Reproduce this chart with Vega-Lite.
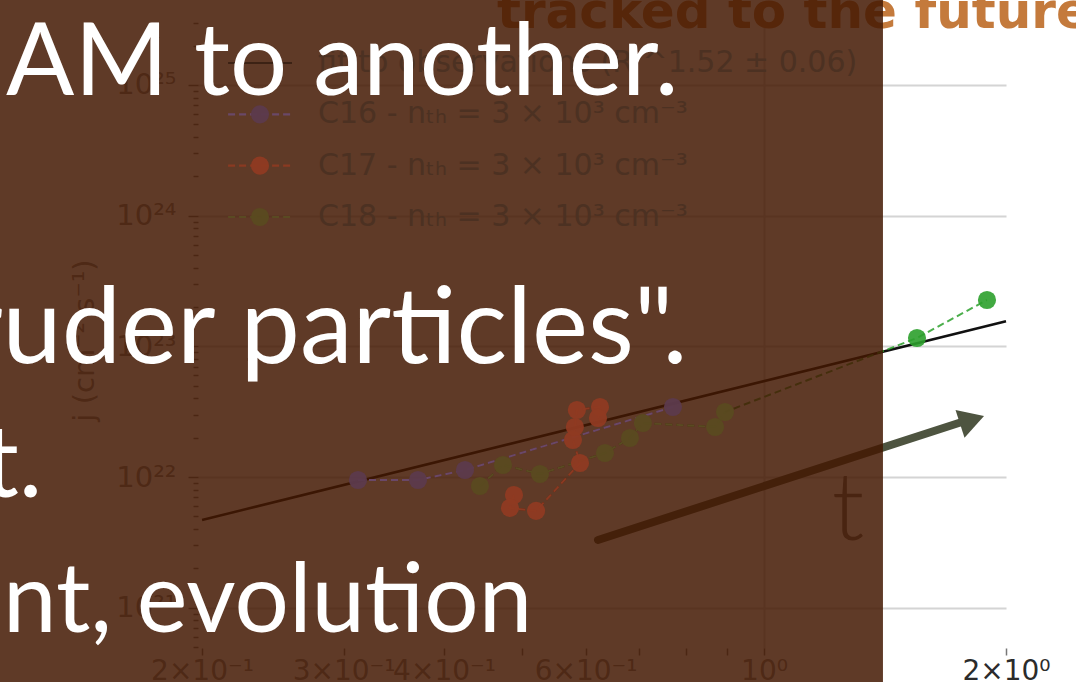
{
  "$schema": "https://vega.github.io/schema/vega-lite/v6.json",
  "width": 808,
  "height": 628,
  "autosize": {"type": "none"},
  "padding": {"left": 198, "top": 20, "right": 70, "bottom": 34},
  "background": "#ffffff",
  "config": {
    "view": {"stroke": null},
    "axis": {
      "domain": false,
      "zindex": 0,
      "labelFont": "DejaVu Sans",
      "titleFont": "DejaVu Sans",
      "tickColor": "#777777",
      "gridColor": "#d4d4d4",
      "gridWidth": 2
    }
  },
  "datasets": {
    "runs": [
      {"series": "C16", "step": 1, "t": 0.3126, "j": 9.49e21},
      {"series": "C16", "step": 2, "t": 0.3712, "j": 9.49e21},
      {"series": "C16", "step": 3, "t": 0.4247, "j": 1.131e22},
      {"series": "C16", "step": 4, "t": 0.7705, "j": 3.433e22},
      {"series": "C17", "step": 1, "t": 0.4887, "j": 7.28e21},
      {"series": "C17", "step": 2, "t": 0.4831, "j": 5.8e21},
      {"series": "C17", "step": 3, "t": 0.5206, "j": 5.5e21},
      {"series": "C17", "step": 4, "t": 0.5904, "j": 1.28e22},
      {"series": "C17", "step": 5, "t": 0.5786, "j": 1.919e22},
      {"series": "C17", "step": 6, "t": 0.5818, "j": 2.413e22},
      {"series": "C17", "step": 7, "t": 0.5851, "j": 3.255e22},
      {"series": "C17", "step": 8, "t": 0.6252, "j": 3.433e22},
      {"series": "C17", "step": 9, "t": 0.6216, "j": 2.828e22},
      {"series": "C18", "step": 1, "t": 0.4433, "j": 8.53e21},
      {"series": "C18", "step": 2, "t": 0.4735, "j": 1.235e22},
      {"series": "C18", "step": 3, "t": 0.5265, "j": 1.054e22},
      {"series": "C18", "step": 4, "t": 0.6342, "j": 1.526e22},
      {"series": "C18", "step": 5, "t": 0.6812, "j": 1.988e22},
      {"series": "C18", "step": 6, "t": 0.7069, "j": 2.59e22},
      {"series": "C18", "step": 7, "t": 0.8693, "j": 2.413e22},
      {"series": "C18", "step": 8, "t": 0.8944, "j": 3.144e22},
      {"series": "C18", "step": 9, "t": 1.55, "j": 1.158e23},
      {"series": "C18", "step": 10, "t": 1.894, "j": 2.261e23}
    ],
    "fit": [
      {"t": 0.2, "j": 4.69e21},
      {"t": 2.0, "j": 1.553e23}
    ],
    "legendRows": [
      {"series": "fit", "label": "fit to observations (R ^1.52 ± 0.06)"},
      {"series": "C16", "label": "C16 - nₜₕ = 3 × 10³ cm⁻³"},
      {"series": "C17", "label": "C17 - nₜₕ = 3 × 10³ cm⁻³"},
      {"series": "C18", "label": "C18 - nₜₕ = 3 × 10³ cm⁻³"}
    ]
  },
  "layer": [
    {
      "layer": [
        {
          "data": {"name": "fit"},
          "mark": {"type": "line", "color": "#111111", "strokeWidth": 2.5},
          "encoding": {
            "x": {
              "field": "t", "type": "quantitative", "title": null,
              "scale": {"type": "log", "domain": [0.1977, 2], "nice": false},
              "axis": {
                "values": [0.2, 0.3, 0.4, 0.5, 0.6, 0.7, 0.8, 0.9, 1, 2],
                "labelExpr": "datum.value === 0.2 ? '2×10⁻¹' : datum.value === 0.3 ? '3×10⁻¹' : datum.value === 0.4 ? '4×10⁻¹' : datum.value === 0.6 ? '6×10⁻¹' : datum.value === 1 ? '10⁰' : datum.value === 2 ? '2×10⁰' : ''",
                "labelColor": {"condition": {"test": "datum.value === 2", "value": "#2b2b2b"}, "value": "#8a8a8a"},
                "labelFontSize": 28,
                "labelPadding": 2,
                "tickSize": 7,
                "tickWidth": 1.5,
                "labelOverlap": false,
                "labelFlush": false,
                "labelBound": false,
                "grid": true,
                "gridOpacity": {"condition": {"test": "datum.value === 1", "value": 1}, "value": 0}
              }
            },
            "y": {
              "field": "j", "type": "quantitative", "title": "j (cm⁻² s⁻¹)",
              "scale": {"type": "log", "domain": [4.917e20, 3.138e25], "nice": false},
              "axis": {
                "values": [5e20, 6e20, 7e20, 8e20, 9e20,
                  1e21, 2e21, 3e21, 4e21, 5e21, 6e21, 7e21, 8e21, 9e21,
                  1e22, 2e22, 3e22, 4e22, 5e22, 6e22, 7e22, 8e22, 9e22,
                  1e23, 2e23, 3e23, 4e23, 5e23, 6e23, 7e23, 8e23, 9e23,
                  1e24, 2e24, 3e24, 4e24, 5e24, 6e24, 7e24, 8e24, 9e24,
                  1e25, 2e25, 3e25],
                "labelExpr": "datum.value === 1e21 ? '10²¹' : datum.value === 1e22 ? '10²²' : datum.value === 1e23 ? '10²³' : datum.value === 1e24 ? '10²⁴' : datum.value === 1e25 ? '10²⁵' : ''",
                "labelColor": "#8a8a8a",
                "labelFontSize": 29,
                "labelPadding": 12,
                "labelOverlap": false,
                "labelFlush": false,
                "labelBound": false,
                "tickSize": {"condition": {"test": "indexof([1e21, 1e22, 1e23, 1e24, 1e25], datum.value) >= 0", "value": 10}, "value": 5},
                "tickWidth": 1.5,
                "grid": true,
                "gridOpacity": {"condition": {"test": "indexof([1e21, 1e22, 1e23, 1e24, 1e25], datum.value) >= 0", "value": 1}, "value": 0},
                "titleFontSize": 29,
                "titleFontWeight": "normal",
                "titleColor": "#8a8a8a",
                "titleAngle": 270,
                "titleAlign": "center",
                "titleBaseline": "middle",
                "titleX": -114,
                "titleY": 320
              }
            }
          }
        },
        {
          "data": {"name": "runs"},
          "mark": {"type": "line", "strokeWidth": 2, "strokeDash": [7, 4], "opacity": 0.85},
          "encoding": {
            "x": {"field": "t", "type": "quantitative", "title": null, "scale": {"type": "log", "domain": [0.1977, 2], "nice": false}},
            "y": {"field": "j", "type": "quantitative", "title": "j (cm⁻² s⁻¹)", "scale": {"type": "log", "domain": [4.917e20, 3.138e25], "nice": false}},
            "color": {"field": "series", "type": "nominal", "legend": null,
              "scale": {"domain": ["C16", "C17", "C18"], "range": ["#9467bd", "#d62728", "#2ca02c"]}},
            "order": {"field": "step", "type": "quantitative"}
          }
        },
        {
          "data": {"name": "runs"},
          "transform": [{"filter": "datum.t >= 1.406"}],
          "mark": {"type": "point", "filled": true, "size": 330, "opacity": 0.9},
          "encoding": {
            "x": {"field": "t", "type": "quantitative", "title": null, "scale": {"type": "log", "domain": [0.1977, 2], "nice": false}},
            "y": {"field": "j", "type": "quantitative", "title": "j (cm⁻² s⁻¹)", "scale": {"type": "log", "domain": [4.917e20, 3.138e25], "nice": false}},
            "color": {"field": "series", "type": "nominal", "legend": null,
              "scale": {"domain": ["C16", "C17", "C18"], "range": ["#9467bd", "#d62728", "#2ca02c"]}}
          }
        }
      ]
    },
    {
      "layer": [
        {
          "data": {"values": [{}]},
          "mark": {"type": "rule", "color": "#4e5440", "strokeWidth": 8, "strokeCap": "round"},
          "encoding": {
            "x": {"datum": 0.6216, "type": "quantitative", "scale": {"type": "log", "domain": [0.1977, 2], "nice": false}},
            "x2": {"datum": 1.778},
            "y": {"datum": 3.296e21, "type": "quantitative", "axis": null, "scale": {"type": "log", "domain": [4.917e20, 3.138e25], "nice": false}},
            "y2": {"datum": 2.683e22}
          }
        },
        {
          "data": {"values": [{}]},
          "mark": {"type": "point", "shape": "triangle-right", "filled": true, "size": 850, "angle": 342, "color": "#4e5440", "opacity": 1},
          "encoding": {
            "x": {"datum": 1.8146, "type": "quantitative", "scale": {"type": "log", "domain": [0.1977, 2], "nice": false}},
            "y": {"datum": 2.729e22, "type": "quantitative", "axis": null, "scale": {"type": "log", "domain": [4.917e20, 3.138e25], "nice": false}}
          }
        },
        {
          "data": {"values": [{}]},
          "mark": {"type": "text", "text": "t", "font": "Lato", "fontWeight": 300, "fontSize": 95, "color": "#6a6a6a", "align": "center", "baseline": "alphabetic"},
          "encoding": {
            "x": {"datum": 1.272, "type": "quantitative", "scale": {"type": "log", "domain": [0.1977, 2], "nice": false}},
            "y": {"datum": 3.296e21, "type": "quantitative", "axis": null, "scale": {"type": "log", "domain": [4.917e20, 3.138e25], "nice": false}}
          }
        },
        {
          "data": {"values": [{}]},
          "mark": {"type": "text", "text": "tracked to the future", "font": "DejaVu Sans", "fontWeight": "bold", "fontSize": 50, "color": "#c47a3c", "align": "left", "baseline": "alphabetic"},
          "encoding": {
            "x": {"datum": 0.4655, "type": "quantitative", "scale": {"type": "log", "domain": [0.1977, 2], "nice": false}},
            "y": {"datum": 2.725e25, "type": "quantitative", "axis": null, "scale": {"type": "log", "domain": [4.917e20, 3.138e25], "nice": false}}
          }
        },
        {
          "data": {"values": [{}]},
          "mark": {"type": "rect", "color": "#431701", "opacity": 0.85},
          "encoding": {
            "x": {"datum": 0.1, "type": "quantitative", "scale": {"type": "log", "domain": [0.1977, 2], "nice": false}},
            "x2": {"datum": 1.406},
            "y": {"datum": 1e20, "type": "quantitative", "axis": null, "scale": {"type": "log", "domain": [4.917e20, 3.138e25], "nice": false}},
            "y2": {"datum": 1e26}
          }
        },
        {
          "data": {"name": "runs"},
          "transform": [{"filter": "datum.t < 1.406"}],
          "mark": {"type": "line", "strokeWidth": 2, "strokeDash": [7, 4]},
          "encoding": {
            "x": {"field": "t", "type": "quantitative", "title": null, "scale": {"type": "log", "domain": [0.1977, 2], "nice": false}},
            "y": {"field": "j", "type": "quantitative", "axis": null, "scale": {"type": "log", "domain": [4.917e20, 3.138e25], "nice": false}},
            "detail": {"field": "series"},
            "color": {"condition": [{"test": "datum.series === 'C16'", "value": "#6a4868"}, {"test": "datum.series === 'C17'", "value": "#8a3a22"}], "value": "#5a4a22"},
            "order": {"field": "step", "type": "quantitative"}
          }
        },
        {
          "data": {"name": "runs"},
          "transform": [{"filter": "datum.t < 1.406"}],
          "mark": {"type": "point", "filled": true, "size": 330, "opacity": 0.95},
          "encoding": {
            "x": {"field": "t", "type": "quantitative", "title": null, "scale": {"type": "log", "domain": [0.1977, 2], "nice": false}},
            "y": {"field": "j", "type": "quantitative", "axis": null, "scale": {"type": "log", "domain": [4.917e20, 3.138e25], "nice": false}},
            "color": {"condition": [{"test": "datum.series === 'C16'", "value": "#5c3a4c"}, {"test": "datum.series === 'C17'", "value": "#8f3a22"}], "value": "#5a4a20"}
          }
        }
      ]
    },
    {
      "data": {"name": "legendRows"},
      "encoding": {
        "y": {"field": "series", "type": "nominal", "axis": null,
          "scale": {"type": "point", "domain": ["fit", "C16", "C17", "C18"], "range": [43, 197], "padding": 0}}
      },
      "layer": [
        {
          "mark": {"type": "rule", "strokeWidth": 2.2},
          "encoding": {
            "x": {"datum": 0.2155, "type": "quantitative", "scale": {"type": "log", "domain": [0.1977, 2], "nice": false}},
            "x2": {"datum": 0.2588},
            "color": {"condition": [{"test": "datum.series === 'fit'", "value": "#3c2214"}, {"test": "datum.series === 'C16'", "value": "#6a4868"}, {"test": "datum.series === 'C17'", "value": "#8a3a22"}], "value": "#5a4a22"},
            "strokeDash": {"condition": {"test": "datum.series === 'fit'", "value": [1, 0]}, "value": [7, 4]}
          }
        },
        {
          "transform": [{"filter": "datum.series !== 'fit'"}],
          "mark": {"type": "point", "filled": true, "size": 330, "opacity": 0.95},
          "encoding": {
            "x": {"datum": 0.2361, "type": "quantitative", "scale": {"type": "log", "domain": [0.1977, 2], "nice": false}},
            "color": {"condition": [{"test": "datum.series === 'C16'", "value": "#5c3a4c"}, {"test": "datum.series === 'C17'", "value": "#8f3a22"}], "value": "#5a4a20"}
          }
        },
        {
          "mark": {"type": "text", "align": "left", "baseline": "middle", "fontSize": 30, "font": "DejaVu Sans", "color": "#4c3122"},
          "encoding": {
            "x": {"datum": 0.2788, "type": "quantitative", "scale": {"type": "log", "domain": [0.1977, 2], "nice": false}},
            "text": {"field": "label"}
          }
        }
      ]
    },
    {
      "data": {"values": [{}]},
      "layer": [
        {
          "mark": {"type": "text", "text": "AM to another.", "font": "Lato", "fontSize": 101, "color": "#ffffff", "align": "left", "baseline": "alphabetic"},
          "encoding": {
            "x": {"datum": 0.1141, "type": "quantitative", "scale": {"type": "log", "domain": [0.1977, 2], "nice": false}},
            "y": {"datum": 8.37e24, "type": "quantitative", "axis": null, "scale": {"type": "log", "domain": [4.917e20, 3.138e25], "nice": false}}
          }
        },
        {
          "mark": {"type": "text", "text": "ruder particles\".", "font": "Lato", "fontSize": 106, "color": "#ffffff", "align": "left", "baseline": "alphabetic"},
          "encoding": {
            "x": {"datum": 0.10115, "type": "quantitative", "scale": {"type": "log", "domain": [0.1977, 2], "nice": false}},
            "y": {"datum": 7.45e22, "type": "quantitative", "axis": null, "scale": {"type": "log", "domain": [4.917e20, 3.138e25], "nice": false}}
          }
        },
        {
          "mark": {"type": "text", "text": "t.", "font": "Lato", "fontSize": 100, "color": "#ffffff", "align": "left", "baseline": "alphabetic"},
          "encoding": {
            "x": {"datum": 0.1068, "type": "quantitative", "scale": {"type": "log", "domain": [0.1977, 2], "nice": false}},
            "y": {"datum": 7.03e21, "type": "quantitative", "axis": null, "scale": {"type": "log", "domain": [4.917e20, 3.138e25], "nice": false}}
          }
        },
        {
          "mark": {"type": "text", "text": "nt, evolution", "font": "Lato", "fontSize": 96, "color": "#ffffff", "align": "left", "baseline": "alphabetic"},
          "encoding": {
            "x": {"datum": 0.1131, "type": "quantitative", "scale": {"type": "log", "domain": [0.1977, 2], "nice": false}},
            "y": {"datum": 6.52e20, "type": "quantitative", "axis": null, "scale": {"type": "log", "domain": [4.917e20, 3.138e25], "nice": false}}
          }
        }
      ]
    }
  ],
  "resolve": {"scale": {"y": "independent", "color": "independent"}}
}
